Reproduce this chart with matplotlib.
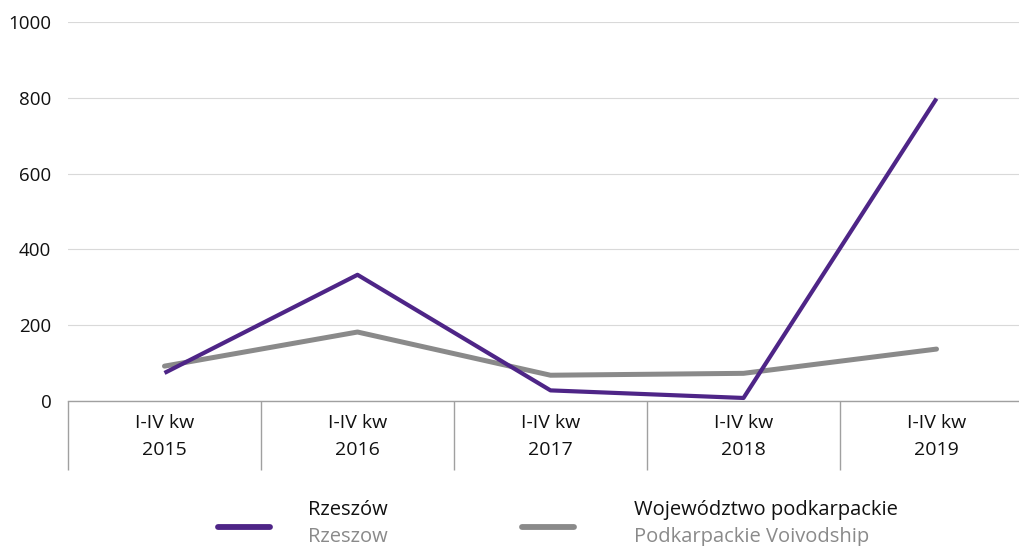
import matplotlib.pyplot as plt
from matplotlib.lines import Line2D

## Dane
okresy = ["I-IV kw\n2015", "I-IV kw\n2016", "I-IV kw\n2017", "I-IV kw\n2018", "I-IV kw\n2019"]
rzeszow = [74, 333, 28, 8, 798]
podkarpackie = [92, 182, 68, 73, 137]
yticks = [0, 200, 400, 600, 800, 1000]

FIOLET = "#4e2587"
SZARY = "#8a8a8a"

plt.rcParams['font.family'] = ['Open Sans', 'DejaVu Sans']

W, H = 1019, 546
fig = plt.figure(figsize=(W / 100, H / 100), dpi=100)
ax = fig.add_axes([68 / W, 1 - 401 / H, 965 / W, 379 / H])

x = list(range(len(okresy)))
ax.plot(x, podkarpackie, color=SZARY, lw=3.6, solid_capstyle='round', zorder=3)
ax.plot(x, rzeszow, color=FIOLET, lw=3.0, solid_capstyle='butt', zorder=4)

ax.set_xlim(-0.5, len(okresy) - 0.5)
ax.set_ylim(0, 1000)
ax.set_yticks(yticks)
ax.set_yticklabels([str(v) for v in yticks], fontsize=13.5, color="#111111")
ax.grid(axis='y', color="#d9d9d9", lw=0.8)
ax.set_axisbelow(True)

for s in ['top', 'right', 'left']:
    ax.spines[s].set_visible(False)
ax.spines['bottom'].set_color("#a0a0a0")
ax.spines['bottom'].set_linewidth(1.0)

ax.tick_params(axis='y', length=0, pad=12)
ax.set_xticks(x)
ax.set_xticklabels(okresy, fontsize=14, color="#111111", linespacing=1.7)
ax.tick_params(axis='x', which='major', length=0, pad=9)
ax.set_xticks([i - 0.5 for i in range(len(okresy) + 1)], minor=True)
ax.tick_params(axis='x', which='minor', length=50, width=1.0, color="#a0a0a0")

## Legenda
def wpis_legendy(x0, x1, xt, kolor, lw, pl, en):
    fig.add_artist(Line2D([x0 / W, x1 / W], [1 - 527 / H, 1 - 527 / H], color=kolor,
                          lw=lw, solid_capstyle='round', transform=fig.transFigure))
    fig.text(xt / W, 1 - 510 / H, pl, fontsize=14.5, color="#111111", va='center')
    fig.text(xt / W, 1 - 537 / H, en, fontsize=14.5, color="#8a8a8a", va='center')

wpis_legendy(218, 270, 308, FIOLET, 4.2, "Rzeszów", "Rzeszow")
wpis_legendy(522, 574, 634, SZARY, 4.2, "Województwo podkarpackie", "Podkarpackie Voivodship")

fig.savefig("out.png", dpi=100)
